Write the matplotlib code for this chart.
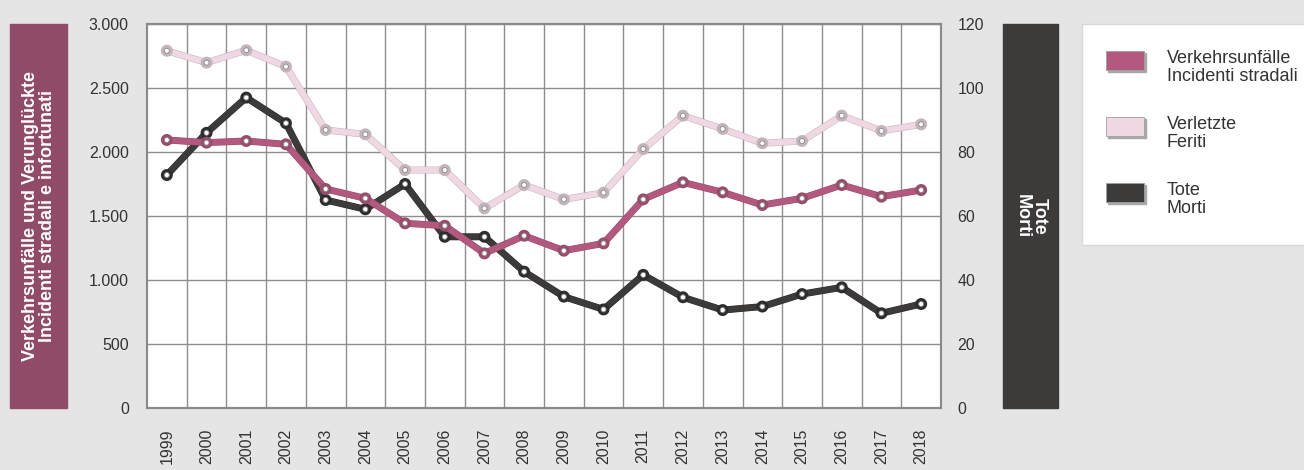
import matplotlib
matplotlib.use("Agg")
import matplotlib.pyplot as plt
from matplotlib.patches import Rectangle
from matplotlib.ticker import FuncFormatter
import matplotlib.patheffects as pe

# Données
annees = [str(a) for a in range(1999, 2019)]
unfaelle = [2094, 2073, 2086, 2060, 1711, 1638, 1443, 1424, 1208, 1346,
            1229, 1286, 1630, 1763, 1685, 1586, 1638, 1742, 1651, 1703]
verletzte = [2791, 2698, 2795, 2667, 2172, 2138, 1859, 1859, 1560, 1742,
             1630, 1682, 2023, 2284, 2180, 2068, 2086, 2284, 2164, 2216]
tote = [72.8, 86.0, 97.0, 89.0, 65.0, 62.1, 70.0, 53.5, 53.5, 42.6,
        34.8, 30.8, 41.6, 34.6, 30.6, 31.7, 35.6, 37.7, 29.6, 32.5]

W, H = 1304, 470
plt.rcParams['font.family'] = ['Liberation Sans', 'DejaVu Sans']

fond = '#e5e5e5'
c_unf = '#b3587e'
c_verl = '#efd7e3'
c_tote = '#3d3a3a'
c_box = '#8f4b68'
c_grille = '#8e8e8e'


def fx(px):
    return px / W


def fy(py):
    return 1 - py / H


fig = plt.figure(figsize=(W / 100, H / 100), dpi=100)
fig.patch.set_facecolor(fond)

pos = [fx(147), fy(408), fx(941) - fx(147), fy(24) - fy(408)]
# axe du dessous : Tote (échelle de droite) + grille, fond blanc
ax2 = fig.add_axes(pos, zorder=0)
ax2.set_facecolor('white')
# axe du dessus : Verkehrsunfälle / Verletzte (échelle de gauche), transparent
ax = fig.add_axes(pos, zorder=1)
ax.set_facecolor('none')

x = list(range(len(annees)))
for a in (ax, ax2):
    a.set_xlim(-0.5, len(annees) - 0.5)
    for s in a.spines.values():
        s.set_color('#8a8a8a')
        s.set_linewidth(1.5)
ax.set_ylim(0, 3000)
ax2.set_ylim(0, 120)

# grille sur l'axe du dessous
ax2.set_xticks([i + 0.5 for i in range(len(annees) - 1)])
ax2.set_yticks(range(0, 121, 20))
ax2.set_axisbelow(True)
ax2.grid(True, color=c_grille, lw=1)
ax2.yaxis.tick_right()
ax2.tick_params(axis='x', length=0, labelbottom=False)
ax2.tick_params(axis='y', length=0, pad=12, labelsize=11.5, labelcolor='#333333')

ax.set_yticks(range(0, 3001, 500))
ax.yaxis.set_major_formatter(FuncFormatter(lambda v, p: f"{int(v):,}".replace(',', '.')))
ax.set_xticks(x)
ax.set_xticklabels(annees, rotation=90)
ax.tick_params(axis='x', length=0, pad=15, labelsize=11.5, labelcolor='#333333')
ax.tick_params(axis='y', length=0, pad=13, labelsize=11.5, labelcolor='#333333')

kw_mark = dict(marker='o', markersize=3.6, markerfacecolor='white',
               markeredgecolor='#8a8a8a', markeredgewidth=0.6)

# Tote sur l'axe de droite
ax2.plot(x, tote, color=c_tote, lw=4.3, solid_joinstyle='miter',
         path_effects=[pe.Stroke(linewidth=5.0, foreground='#2e2c2c'), pe.Normal()],
         **kw_mark)
# Verletzte et Verkehrsunfälle sur l'axe de gauche
ax.plot(x, verletzte, color=c_verl, lw=4.3, solid_joinstyle='miter',
        path_effects=[pe.Stroke(linewidth=5.0, foreground='#c3b3bb'), pe.Normal()],
        **kw_mark)
ax.plot(x, unfaelle, color=c_unf, lw=4.3, solid_joinstyle='miter',
        path_effects=[pe.Stroke(linewidth=5.0, foreground='#984d6c'), pe.Normal()],
        **kw_mark)

# boîtes de titre des axes
fig.patches.append(Rectangle((fx(10), fy(408)), fx(67) - fx(10), fy(24) - fy(408),
                             transform=fig.transFigure, color=c_box, zorder=0))
fig.text(fx(39), fy(216), "Verkehrsunfälle und Verunglückte\nIncidenti stradali e infortunati",
         rotation=90, ha='center', va='center', color='white', fontsize=13,
         fontweight='bold', linespacing=1.0, multialignment='center')

fig.patches.append(Rectangle((fx(1003), fy(408)), fx(1058) - fx(1003), fy(24) - fy(408),
                             transform=fig.transFigure, color=c_tote, zorder=0))
fig.text(fx(1030.5), fy(216), "Tote\nMorti", rotation=270, ha='center', va='center',
         color='white', fontsize=13, fontweight='bold', linespacing=1.0,
         multialignment='center')

# légende dessinée à la main
fig.patches.append(Rectangle((fx(1082), fy(245)), fx(1310) - fx(1082), fy(24) - fy(245),
                             transform=fig.transFigure, facecolor='white',
                             edgecolor='#d8d8d8', lw=1, zorder=0))
items = [(c_unf, "Verkehrsunfälle\nIncidenti stradali", 51),
         (c_verl, "Verletzte\nFeriti", 117),
         (c_tote, "Tote\nMorti", 183)]
for couleur, label, top in items:
    fig.patches.append(Rectangle((fx(1108), fy(top + 21)), fx(38), fy(0) - fy(19),
                                 transform=fig.transFigure, color='#a8a8a8', zorder=1))
    fig.patches.append(Rectangle((fx(1106), fy(top + 19)), fx(38), fy(0) - fy(19),
                                 transform=fig.transFigure, facecolor=couleur,
                                 edgecolor='#a0a0a0', lw=0.6, zorder=2))
    fig.text(fx(1167), fy(top - 1), label, ha='left', va='top', fontsize=13,
             color='#333333', linespacing=1.1)

fig.savefig("out.png", dpi=100)
